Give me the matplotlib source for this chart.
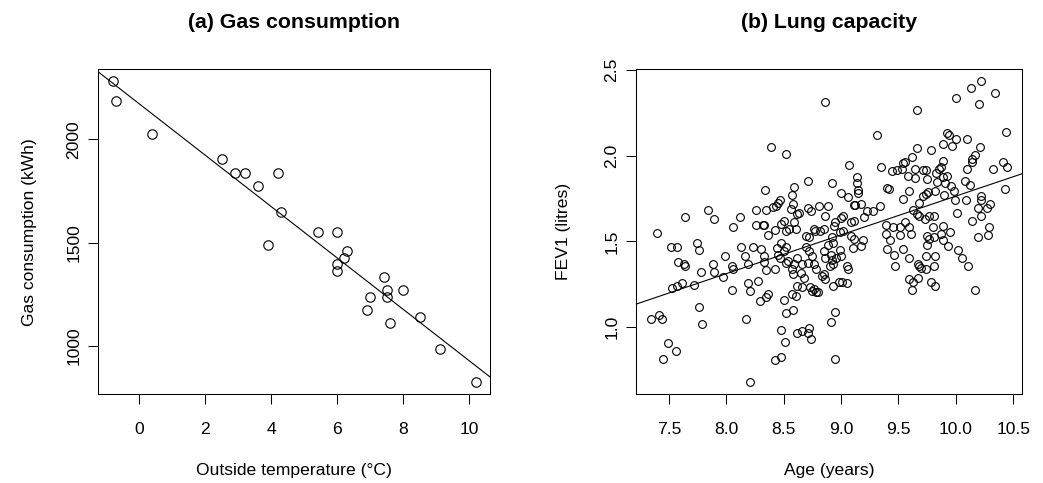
"""Two-panel scatter plots with least-squares lines: gas use and lung capacity."""

import matplotlib

matplotlib.use("Agg")
import matplotlib.pyplot as plt
import numpy as np

plt.rcParams["font.family"] = ["Liberation Sans", "DejaVu Sans"]

# (a) outside temperature (deg C) and gas consumption (kWh)
temperature_c = [
    -0.81, -0.71, 0.39, 2.50, 2.90, 3.20, 3.60, 3.90, 4.20, 4.30, 5.41, 6.00, 6.00,
    6.00, 6.20, 6.30, 6.90, 7.00, 7.40, 7.50, 7.50, 7.60, 8.00, 8.50, 9.10, 10.20,
]
gas_kwh = [
    2282, 2189, 2029, 1903, 1838, 1838, 1775, 1490, 1838, 1648, 1553, 1553, 1395,
    1362, 1425, 1458, 1174, 1237, 1332, 1269, 1237, 1109, 1269, 1140, 984, 824,
]
temperature_ticks = [0, 2, 4, 6, 8, 10]
gas_ticks = [1000, 1500, 2000]

# (b) age (years) and FEV1 (litres)
age_years = [
    7.40, 7.52, 7.57, 7.74, 7.76, 7.58, 7.63, 7.64, 7.78, 7.88, 7.89, 7.99, 7.97,
    8.05, 8.06, 8.05, 8.13, 8.16, 8.19, 8.23, 8.30, 8.19, 8.21, 8.28, 8.33, 8.33,
    8.35, 8.29, 8.35, 8.36, 7.53, 7.57, 7.61, 7.72, 7.76, 7.34, 7.41, 7.44, 7.79,
    8.17, 7.49, 7.56, 7.45, 8.21, 8.42,
    7.64, 7.84, 7.89, 8.06, 8.12, 8.26, 8.34, 8.35, 8.41, 8.26, 8.32, 8.33, 8.39,
    8.36,
    8.86, 8.52, 9.31, 9.66, 10.00, 10.13, 10.22, 10.34, 10.20, 10.44, 9.92, 9.94,
    10.00, 9.97, 9.89, 10.10, 10.21, 9.66, 9.78, 9.62, 9.56, 9.54, 10.17, 10.14,
    10.14, 10.10, 10.41, 10.45, 10.32, 9.89, 9.87, 9.85, 9.07, 9.14, 9.35, 9.44,
    9.49, 9.53, 9.58, 9.64, 9.71, 9.74, 9.64, 9.83, 9.89, 9.92, 9.84, 9.75, 9.91,
    9.96, 10.08, 10.12, 10.43, 9.42, 9.59, 9.54, 9.71, 9.74, 9.76, 9.82, 9.90,
    9.99, 9.98, 10.22, 10.22, 10.09, 10.30, 10.27, 10.19, 10.22, 10.14, 10.29,
    10.19, 10.01, 9.68, 9.63, 9.66, 9.68, 9.73, 9.77, 9.81, 9.80, 9.89, 9.95,
    9.75, 9.77, 9.56, 9.59, 9.39, 9.45, 9.51, 9.61, 9.81,
    8.92, 8.71, 8.59, 8.57, 9.00, 9.06, 9.11, 9.12, 9.15, 9.15, 9.14, 8.81, 8.89,
    8.71, 8.74, 8.58, 8.56, 8.47, 8.45, 8.43, 8.86, 9.02, 9.00, 9.23, 9.28, 9.34,
    9.40, 9.20, 9.17, 9.11, 9.09, 8.95, 8.94, 8.62, 8.59, 8.63, 8.50, 8.48, 8.42,
    8.52, 8.55, 8.61, 8.69, 8.72, 8.76, 8.77, 8.82, 8.85, 8.99, 9.02, 9.09, 9.11,
    9.19, 8.92, 9.43,
    8.44, 8.47, 8.45, 8.48, 8.52, 8.50, 8.52, 8.54, 8.42, 8.57, 8.58, 8.59, 8.62,
    8.66, 8.65, 8.68, 8.57, 8.61, 8.50, 8.62, 8.66, 8.69, 8.72, 8.75, 8.71, 8.76,
    8.78, 8.73, 8.75, 8.78, 8.80, 8.76, 8.85, 8.86, 8.83, 8.86, 8.85, 8.91, 8.92,
    8.93, 8.90, 8.89, 8.93, 8.99, 8.96, 9.00, 9.05, 9.06, 8.93, 8.98, 9.01, 9.05,
    9.10, 9.17, 8.91, 8.95, 8.52, 8.58, 8.48, 8.51, 8.62, 8.66, 8.71, 8.72, 8.74,
    8.48, 8.95, 9.40, 9.46, 9.47, 9.54, 9.59, 9.59, 9.63, 9.62, 9.67, 9.67, 9.68,
    9.70, 9.74, 9.74, 9.82, 9.81, 9.75, 9.78, 9.82, 9.89, 9.93, 10.02, 10.05,
    10.11, 10.17, 10.28, 9.51, 9.39, 9.87,
]
fev1_litres = [
    1.546, 1.469, 1.469, 1.488, 1.450, 1.378, 1.369, 1.359, 1.320, 1.369, 1.320,
    1.417, 1.290, 1.359, 1.340, 1.218, 1.469, 1.417, 1.369, 1.469, 1.456, 1.257,
    1.208, 1.268, 1.417, 1.378, 1.330, 1.151, 1.176, 1.195, 1.230, 1.237, 1.257,
    1.243, 1.118, 1.050, 1.070, 1.050, 1.019, 1.050, 0.909, 0.861, 0.811, 0.680,
    0.810,
    1.641, 1.680, 1.628, 1.583, 1.641, 1.680, 1.800, 1.680, 1.700, 1.593, 1.593,
    1.593, 2.048, 1.535,
    2.314, 2.010, 2.118, 2.266, 2.333, 2.394, 2.433, 2.365, 2.298, 2.139, 2.129,
    2.118, 2.099, 2.057, 2.070, 2.099, 2.048, 2.042, 2.032, 1.990, 1.962, 1.956,
    2.004, 1.962, 1.980, 1.924, 1.962, 1.933, 1.924, 1.971, 1.933, 1.924, 1.943,
    1.876, 1.933, 1.911, 1.914, 1.924, 1.882, 1.924, 1.914, 1.914, 1.867, 1.901,
    1.876, 1.882, 1.848, 1.863, 1.838, 1.823, 1.852, 1.829, 1.804, 1.804, 1.795,
    1.747, 1.762, 1.778, 1.787, 1.791, 1.772, 1.743, 1.791, 1.762, 1.743, 1.743,
    1.719, 1.696, 1.696, 1.648, 1.620, 1.582, 1.525, 1.667, 1.724, 1.681, 1.658,
    1.648, 1.629, 1.648, 1.648, 1.582, 1.591, 1.553, 1.534, 1.515, 1.610, 1.582,
    1.597, 1.586, 1.582, 1.544, 1.525,
    1.838, 1.854, 1.819, 1.772, 1.781, 1.757, 1.711, 1.711, 1.800, 1.781, 1.838,
    1.705, 1.705, 1.696, 1.677, 1.715, 1.686, 1.743, 1.724, 1.705, 1.648, 1.648,
    1.635, 1.677, 1.677, 1.705, 1.810, 1.639, 1.715, 1.620, 1.610, 1.610, 1.591,
    1.658, 1.610, 1.667, 1.620, 1.601, 1.567, 1.563, 1.572, 1.572, 1.534, 1.525,
    1.572, 1.559, 1.563, 1.572, 1.553, 1.563, 1.534, 1.515, 1.509, 1.525, 1.506,
    1.460, 1.403, 1.422, 1.488, 1.469, 1.441, 1.374, 1.384, 1.336, 1.336, 1.308,
    1.365, 1.403, 1.365, 1.317, 1.289, 1.194, 1.184, 1.156, 1.241, 1.235, 1.469,
    1.441, 1.412, 1.374, 1.365, 1.336, 1.232, 1.213, 1.203, 1.207, 1.222, 1.441,
    1.403, 1.298, 1.279, 1.308, 1.422, 1.393, 1.365, 1.355, 1.479, 1.492, 1.450,
    1.403, 1.412, 1.355, 1.336, 1.241, 1.260, 1.264, 1.256, 1.460, 1.473, 1.032,
    1.089, 1.080, 1.099, 0.981, 0.914, 0.965, 0.975, 0.965, 0.994, 0.933, 0.827,
    0.815, 1.454, 1.422, 1.355, 1.454, 1.403, 1.279, 1.260, 1.218, 1.289, 1.365,
    1.355, 1.346, 1.336, 1.416, 1.412, 1.355, 1.479, 1.260, 1.237, 1.507, 1.473,
    1.447, 1.403, 1.355, 1.218, 1.536, 1.536, 1.545, 1.545,
]
age_ticks = [7.5, 8.0, 8.5, 9.0, 9.5, 10.0, 10.5]
fev1_ticks = [1.0, 1.5, 2.0, 2.5]

FONT_SIZE = 12.6
TITLE_SIZE = 15.3


def tick_text(values):
    """Format ticks the way R prints them."""
    return [f"{v:d}" if isinstance(v, int) else f"{v:.1f}" for v in values]


def scatter_with_fit(axis, x, y, title, xlabel, ylabel, xticks, yticks,
                     marker_size, ylabel_x):
    """Draw an R-style scatter plot with its least-squares line."""
    x = np.asarray(x, dtype=float)
    y = np.asarray(y, dtype=float)
    axis.plot(x, y, "o", markerfacecolor="none", markeredgecolor="black",
              markeredgewidth=0.8, markersize=marker_size, linestyle="none")

    # R's default 4% padding on each side of the data range
    x_pad = 0.04 * (x.max() - x.min())
    y_pad = 0.04 * (y.max() - y.min())
    axis.set_xlim(x.min() - x_pad, x.max() + x_pad)
    axis.set_ylim(y.min() - y_pad, y.max() + y_pad)

    slope, intercept = np.polyfit(x, y, 1)
    axis.axline((x.mean(), intercept + slope * x.mean()), slope=slope,
                color="black", linewidth=0.8)
    axis.set_autoscale_on(False)

    axis.set_xticks(xticks, tick_text(xticks))
    axis.set_yticks(yticks, tick_text(yticks))
    axis.tick_params(direction="out", length=7.2, width=0.75, labelsize=FONT_SIZE)
    axis.tick_params(axis="x", pad=13)
    axis.tick_params(axis="y", pad=5, labelrotation=90)
    for label in axis.get_yticklabels():
        label.set_va("center")
    for spine in axis.spines.values():
        spine.set_linewidth(0.75)

    axis.set_xlabel(xlabel, fontsize=FONT_SIZE)
    axis.xaxis.set_label_coords(0.5, -0.236)
    axis.xaxis.label.set_va("center")
    axis.set_ylabel(ylabel, fontsize=FONT_SIZE)
    axis.yaxis.set_label_coords(ylabel_x, 0.5)
    axis.yaxis.label.set_va("center")
    axis.text(0.5, 1.145, title, transform=axis.transAxes, ha="center",
              va="center", fontsize=TITLE_SIZE, fontweight="bold")


figure = plt.figure(figsize=(10.43, 4.83), dpi=100)
gas_axis = figure.add_axes([0.0942, 0.1843, 0.3760, 0.6722])
lung_axis = figure.add_axes([0.6101, 0.1843, 0.3695, 0.6722])

scatter_with_fit(gas_axis, temperature_c, gas_kwh, "(a) Gas consumption",
                 "Outside temperature (°C)", "Gas consumption (kWh)",
                 temperature_ticks, gas_ticks, marker_size=6.8, ylabel_x=-0.175)
scatter_with_fit(lung_axis, age_years, fev1_litres, "(b) Lung capacity",
                 "Age (years)", "FEV1 (litres)",
                 age_ticks, fev1_ticks, marker_size=5.6, ylabel_x=-0.19)

figure.savefig("out.png", dpi=100, facecolor="white")
